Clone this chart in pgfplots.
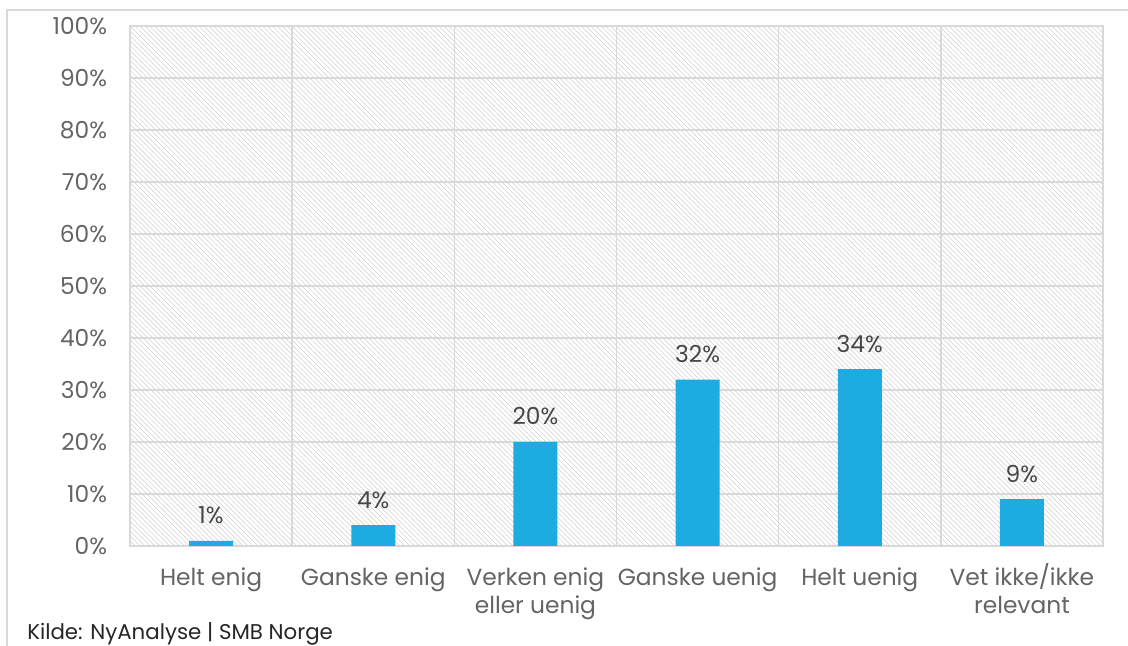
\documentclass[border=0pt]{standalone}
\usepackage{pgfplots}
\pgfplotsset{compat=1.18}
\usepackage{fontspec}
\setmainfont{Poppins}
\usetikzlibrary{patterns.meta}
\definecolor{barblue}{RGB}{30,171,226}
\definecolor{gridgray}{RGB}{217,217,217}
\definecolor{ticktext}{RGB}{100,100,100}
\definecolor{labeltext}{RGB}{70,70,70}
\newcommand\st{\vphantom{/}}
\begin{document}
\begin{tikzpicture}
\useasboundingbox (0,0) rectangle (846pt,484.5pt);
\clip (0,0) rectangle (846pt,484.5pt);
\draw[gridgray, line width=1.1pt] (5.25pt,-5pt) -- (5.25pt,477pt) -- (860pt,477pt);
\begin{axis}[
  at={(97.5pt,75pt)}, anchor=south west,
  scale only axis, width=729.75pt, height=390pt,
  xmin=-0.5, xmax=5.5, ymin=0, ymax=100,
  xtick={0,1,2,3,4,5},
  xticklabels={\st Helt enig, \st Ganske enig, \st Verken enig\\eller uenig, \st Ganske uenig, \st Helt uenig, \st Vet ikke/ikke\\relevant},
  minor xtick={-0.5,0.5,1.5,2.5,3.5,4.5,5.5},
  ytick={0,10,...,100},
  yticklabels={0\%,10\%,20\%,30\%,40\%,50\%,60\%,70\%,80\%,90\%,100\%},
  major tick length=0pt, minor tick length=0pt,
  ymajorgrids, xminorgrids,
  grid style={gridgray, line width=1.1pt},
  minor grid style={gridgray, line width=1.1pt},
  axis line style={gridgray, line width=1.1pt},
  axis background/.style={pattern={Lines[angle=-45,distance=2.6pt,line width=0.5pt]}, pattern color=black!16},
  ybar, bar width=33pt,
  /pgf/number format/assume math mode=true,
  nodes near coords={\pgfmathprintnumber{\pgfplotspointmeta}\%},
  every node near coord/.append style={anchor=base, yshift=12.75pt, text=labeltext, font=\fontsize{17.5pt}{21pt}\selectfont, inner sep=0pt},
  xticklabel style={align=center, text=ticktext, font=\fontsize{17.5pt}{21pt}\selectfont, inner sep=0pt, anchor=north, yshift=-13pt},
  yticklabel style={text=ticktext, font=\fontsize{17.5pt}{21pt}\selectfont, inner sep=0pt, anchor=east, xshift=-17pt},
  clip=false,
]
\addplot[fill=barblue, draw=none] coordinates {(0,1) (1,4) (2,20) (3,32) (4,34) (5,9)};
\end{axis}
\node[anchor=base west, inner sep=0pt, text=black!85, font=\fontsize{16pt}{19pt}\selectfont] at (20.25pt,4.5pt) {Kilde: NyAnalyse | SMB Norge};
\end{tikzpicture}
\end{document}
